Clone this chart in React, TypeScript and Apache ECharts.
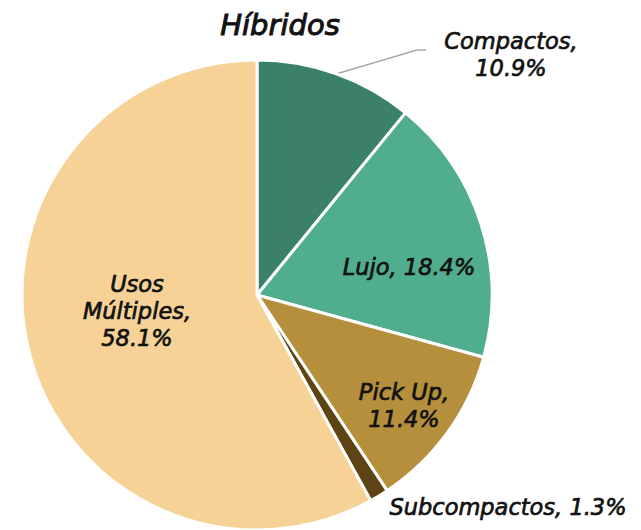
import React, { useEffect, useRef } from "react";
import * as echarts from "echarts";

const categories = ["Compactos", "Lujo", "Pick Up", "Subcompactos", "Usos Múltiples"];
const values = [10.9, 18.4, 11.4, 1.3, 58.1];
const colors = ["#3a806b", "#50ad8d", "#b58f3c", "#5e4314", "#f6d296"];
const labelFormats = ["Compactos,\n{c}%", "{b}, {c}%", "Pick Up,\n{c}%", "{b}, {c}%", "Usos\nMúltiples,\n{c}%"];
const title = "Híbridos";

// label centers (layout only)
const labelPos: [number, number][] = [
  [511, 54],
  [409, 267],
  [404, 405],
  [508, 507],
  [137, 311],
];

export default function App() {
  const ref = useRef<HTMLDivElement>(null);
  useEffect(() => {
    document.body.style.margin = "0";
    const chart = echarts.init(ref.current!, undefined, { renderer: "svg" });
    chart.setOption({
      animation: false,
      title: {
        text: title,
        left: 275,
        top: 5,
        textAlign: "center",
        textStyle: {
          fontFamily: "DejaVu Sans",
          fontStyle: "italic",
          fontWeight: "normal",
          fontSize: 29,
          color: "#111",
          textBorderColor: "#111",
          textBorderWidth: 1,
        },
      },
      series: [
        {
          type: "pie",
          center: [257, 295],
          radius: [0, 235],
          startAngle: 90,
          clockwise: true,
          avoidLabelOverlap: false,
          itemStyle: { borderColor: "#fff", borderWidth: 3 },
          label: {
            show: true,
            position: "inside",
            fontFamily: "DejaVu Sans",
            fontStyle: "italic",
            fontSize: 22.5,
            lineHeight: 27,
            color: "#111",
            textBorderColor: "#111",
            textBorderWidth: 0.7,
            align: "center",
          },
          labelLine: { show: false },
          labelLayout: (params: any) => {
            const i = params.dataIndex;
            const [x, y] = labelPos[i];
            const res: any = { x, y, align: "center", verticalAlign: "middle" };
            if (i === 0) {
              res.labelLinePoints = [
                [336, 74],
                [417, 50],
                [426, 50],
              ];
            }
            return res;
          },
          data: categories.map((name, i) => ({
            name,
            value: values[i],
            itemStyle: { color: colors[i] },
            label: {
              formatter: labelFormats[i],
              position: i === 0 ? "outside" : "inside",
            },
            labelLine:
              i === 0
                ? { show: true, lineStyle: { color: "#aaaaaa", width: 1.5 } }
                : { show: false },
          })),
        },
      ],
    });
    return () => chart.dispose();
  }, []);
  return <div ref={ref} style={{ width: 641, height: 530 }} />;
}
